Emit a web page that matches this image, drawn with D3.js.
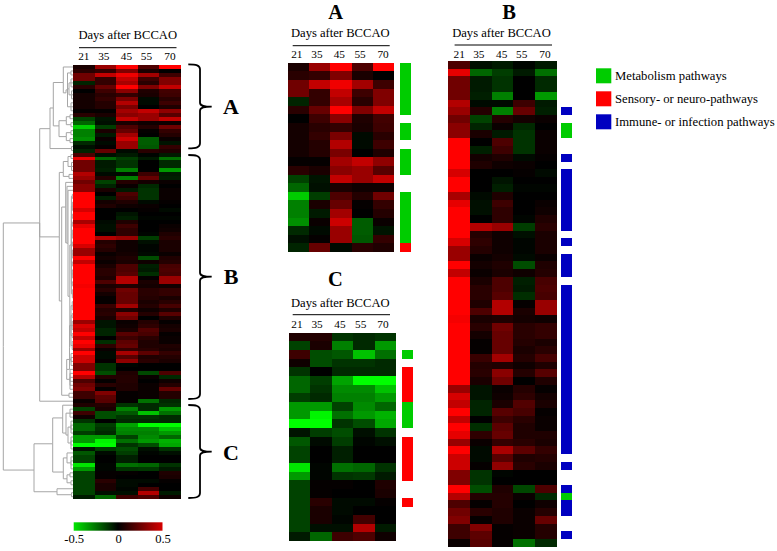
<!DOCTYPE html>
<html>
<head>
<meta charset="utf-8">
<script src="https://cdn.jsdelivr.net/npm/d3@7"></script>
<style>
html,body{margin:0;padding:0;background:#fff}
svg{display:block}
text{font-family:"Liberation Serif",serif;fill:#000}
.cells{filter:blur(.45px)}
</style>
</head>
<body>
<svg id="chart" width="777" height="551"></svg>
<script>
// ---------- data ----------
const days = ["21","35","45","55","70"];

const rowsA = [
[.05,.30,.50,.15,.50],[.08,.10,.25,.05,.00],[.22,.38,.47,.32,.12],[.22,.10,.38,.12,.25],
[-.07,.10,.33,.08,.25],[.08,.20,.50,.25,.38],[.00,.12,.27,.06,.13],[.04,.08,.10,.05,.12],
[.04,.10,.24,-.02,.08],[.04,.07,.35,-.02,.12],[.04,.07,.24,.00,.06],[.01,.01,.32,.38,.28],
[.08,.05,.27,.30,.17],[-.13,-.04,.38,.30,.38],[-.20,-.03,.05,.03,.03],[-.40,-.12,.15,.07,.22],
[-.25,.05,.20,.01,.10],[-.25,-.05,.32,.00,.07],[-.28,.02,.40,-.18,.02],[-.08,-.02,.30,-.18,-.04],
[-.03,.01,.30,-.17,.10],[-.07,.20,-.02,.08,.06]];

const rowsB = [
[.15,-.03,-.05,-.01,-.05],[.45,-.20,-.12,-.05,-.22],[.22,-.05,-.10,.00,-.08],[.22,-.05,-.10,.00,-.08],
[.22,-.06,-.25,.00,-.30],[.35,-.02,-.02,.12,-.05],[.30,.07,-.25,.20,-.06],[.22,-.13,.07,.04,.02],
[.27,-.07,.02,-.08,.00],[.27,.05,-.05,-.10,.02],[.50,.00,.15,-.10,.02],[.50,-.06,.12,-.10,.02],
[.50,.04,.06,-.02,.01],[.50,.06,.03,.02,.00],[.42,.00,.00,.01,-.02],[.50,.00,-.04,.00,.00],
[.50,.00,-.06,-.01,-.01],[.33,-.02,.06,.00,.00],[.45,-.03,.12,.00,.02],[.50,-.03,.09,.00,.03],
[.50,.00,.09,-.01,.06],[.50,.35,.30,-.12,.08],[.50,.07,.03,-.03,.05],[.42,.09,.03,-.01,.05],
[.30,.07,.03,-.01,.05],[.30,.02,.04,-.02,.02],[.50,.04,.06,-.15,.06],[.38,.02,.05,.03,.07],
[.50,.05,.15,-.06,.14],[.50,.08,.15,-.05,.15],[.50,.08,.17,-.09,.14],[.50,.06,.35,.01,.30],
[.50,.15,.35,.05,.30],[.48,.05,.06,.04,.03],[.50,.08,.22,.08,.10],[.50,.04,.20,.08,.10],
[.50,.01,.20,.07,.05],[.50,.01,.20,.05,.08],[.50,.11,.32,.07,.14],[.50,.07,.06,.03,.06],
[.50,.08,.27,.07,.17],[.50,.05,.22,.00,.06],[.30,-.04,.02,.07,.01],[.42,-.04,.03,.09,.04],
[.38,-.07,.05,.16,.05],[.50,-.07,.17,.14,.01],[.38,.00,.12,.08,.02],[.50,-.09,.18,.06,.02],
[.45,.09,.20,.06,.06],[.30,.02,.10,.08,.05],[.50,-.02,.33,.18,.10],[.40,-.02,.17,.06,.07],
[.40,.01,.28,.08,.05],[.25,-.10,-.01,.00,.00],[.25,-.10,.00,.00,.00],[.50,-.15,.06,-.14,.15],
[.35,.07,.07,.02,-.08],[.15,.01,.07,.00,.03],[.22,.08,.06,.02,.07],[.25,.01,.06,.02,.20],
[.12,.25,.01,.02,.07],[.12,.18,.01,.02,.07],[.02,.17,.01,-.22,-.08]];

const rowsC = [
[.06,.07,-.10,-.08,-.10],[-.13,.05,-.25,-.08,-.30],[.12,-.15,-.17,-.38,-.22],[.03,-.15,-.10,-.10,-.08],
[-.10,.00,-.08,-.08,-.08],[-.20,-.12,-.32,-.50,-.50],[-.20,-.10,-.27,-.27,-.38],[-.12,-.08,-.25,-.25,-.30],
[-.30,-.30,-.13,-.27,-.20],[-.30,-.48,-.22,-.30,-.35],[-.50,-.50,-.10,-.15,-.33],[-.04,-.12,-.15,-.03,-.10],
[-.17,-.02,-.12,-.01,-.03],[-.13,.00,-.06,.00,.00],[-.13,.00,-.06,.00,.00],[-.45,-.01,-.22,-.20,-.10],
[-.30,-.01,-.10,-.11,-.05],[-.13,.01,.01,.00,.06],[-.13,.01,.00,.00,.05],[-.13,.08,-.02,-.02,.01],
[-.13,.05,-.02,.00,.00],[-.13,.05,-.01,.13,.00],[-.13,-.03,-.03,.35,-.05],[-.05,-.20,.12,.15,.03]];

const pathwayNames = {M:"Metabolism pathways",S:"Sensory- or neuro-pathways",I:"Immune- or infection pathways"};
const pathwayKeys = ["M","S","I"];
const pathwaysA = "MMMMMM.MM.MMM..MMMMMMS".split("");
const pathwaysB = "......I.MM..I.IIIIIIII.I.III.IIIIIIIIIIIIIIIIIIIIII.I..IMII..I.".split("");
const pathwaysC = "..M.SSSSMMM.SSSSS..S....".split("");

const scaleTicks = [-0.5, 0, 0.5];

// dendrogram: [height, join row or null, ...children]; 0 = one leaf row
const _ = null;
const treeA = [23,16,
  [19.7,10.8,
    [9.7,4.4,0,[7,7,
       [5.5,_,[2,_,0,0],[4,_,[2,_,0,0,0],[1.5,_,0,0,0]],[2,_,0,0,0]]]],
    [14,15.3,[6.7,_,[3,_,0,0],[2,_,0,0]],[6.7,_,[2,_,0,0],[3,_,0,0]]]],
  [1.5,_,0,0]];
const treeB = [13.7,43.2,
  [9.7,27,[5,_,[2,_,0,0],[1.5,_,0,0,0]],[4,_,0,0]],
  [11.3,59.3,
    [7.3,35.7,0,[6,44.7,0,[5,_,0,
      [3.2,_,
        [1.6,_,[.7,_,0,0],[.7,_,0,0,0],[.7,_,0,0],[.7,_,0,0],[.7,_,0,0,0],[.7,_,0,0],[.7,_,0,0,0],[.7,_,0,0],[.7,_,0,0,0],[.7,_,0,0],[.7,_,0,0,0]],
        [3.5,_,
          [2,_,[.8,_,0,0,0],[.8,_,0,0],[.8,_,0,0,0],[.8,_,0,0],[.8,_,0,0,0]],
          [6.3,_,[2,_,0,0,0,0],[3,_,0,0,0,0,0,0]]]]]]],
    [4,_,0,0]]];
const treeC = [39,101.8,
  [20.3,95.2,
    [10.3,88.7,0,[7,92.5,[3,_,0,0,0],[5,_,[2,_,0,0,0,0],[2,_,0,0,0,0]]]],
    [9.7,102.3,[6,_,0,[2,_,0,0,0,0]],[6,_,[3,_,0,0],[2,_,0,0]]]],
  [16,_,0,[1.5,_,0,0]]];
const treeAll = [69.7,_,[33.3,39.7,treeA,treeB,0],treeC];

// ---------- shared ----------
const svg = d3.select("#chart");
const color = d3.scaleLinear().domain([-.5,0,.5]).range(["#00ff00","#000000","#ff0000"]).clamp(true);
const pathwayColor = d3.scaleOrdinal().domain(pathwayKeys).range(["#00cc00","#ff0000","#0000c0"]);
const fontTitle = 12.6, fontTick = 11.3;

function heatmap(rows, x0, x1, y0, y1, cats, barX0, barX1) {
  const g = svg.append("g");
  const x = d3.scaleBand().domain(days).range([x0,x1]);
  const y = d3.scaleBand().domain(d3.range(rows.length)).range([y0,y1]);
  g.append("g").attr("class","cells").selectAll("g.row").data(rows).join("g").attr("class","row")
    .selectAll("rect").data((r,i)=>r.map((v,j)=>({v,day:days[j],i})))
    .join("rect")
    .attr("x",d=>x(d.day)).attr("y",d=>y(d.i))
    .attr("width",x.bandwidth()).attr("height",y.bandwidth()+.3)
    .attr("fill",d=>color(d.v)).attr("shape-rendering","crispEdges");
  if (cats) {
    g.selectAll("rect.bar").data(cats.map((c,i)=>({c,i})).filter(d=>d.c!=="."))
      .join("rect").attr("class","bar")
      .attr("x",barX0).attr("width",barX1-barX0)
      .attr("y",d=>y(d.i)).attr("height",y.bandwidth()+.3)
      .attr("fill",d=>pathwayColor(d.c)).attr("shape-rendering","crispEdges");
  }
  return x;
}

function header(x, cfg) {
  const g = svg.append("g");
  g.append("text").attr("x",cfg.titleX).attr("y",cfg.titleY).attr("text-anchor","middle")
    .attr("font-size",fontTitle).text("Days after BCCAO");
  g.append("line").attr("x1",cfg.lineX0).attr("x2",cfg.lineX1).attr("y1",cfg.lineY).attr("y2",cfg.lineY)
    .attr("stroke","#000").attr("stroke-width",1);
  const axis = g.append("g").attr("transform",`translate(0,${cfg.tickY})`)
    .call(d3.axisTop(x).tickSize(0).tickPadding(0));
  axis.select(".domain").remove();
  axis.selectAll("text")
    .attr("dx",(d,i)=>cfg.nudge[i])
    .attr("font-family","Liberation Serif").attr("font-size",fontTick);
  if (cfg.letter) {
    g.append("text").attr("x",cfg.letterX).attr("y",cfg.letterY).attr("text-anchor","middle")
      .attr("font-size",20.5).attr("font-weight","bold").text(cfg.letter);
  }
}

// ---------- main heat map ----------
const allRows = rowsA.concat(rowsB, rowsC);
const mainX0 = 73, mainX1 = 180.7, mainY0 = 65, mainY1 = 498.7;
const xMain = heatmap(allRows, mainX0, mainX1, mainY0, mainY1);
header(xMain,{titleX:127.7,titleY:39,lineX0:79,lineX1:176.5,lineY:47.7,tickY:60,nudge:[0,-1.5,-.4,-2,0]});

// ---------- dendrogram ----------
const rowY = d3.scaleLinear().domain([0,allRows.length]).range([mainY0,mainY1]);
const distX = d3.scaleLinear().domain([0,70]).range([mainX0,3]);
const tree = d3.hierarchy(treeAll, d=>Array.isArray(d)?d.slice(2):null);
tree.leaves().forEach((l,i)=>{ l.row = i+.5; l.h = 0; });
tree.eachAfter(n=>{
  if (n.children) {
    n.h = n.data[0];
    n.row = n.data[1]!==null ? n.data[1]
      : (n.children[0].row + n.children[n.children.length-1].row)/2;
  }
});
svg.append("g").attr("fill","none").attr("stroke","#a6a6a6").attr("stroke-width",1)
  .selectAll("path").data(tree.links()).join("path")
  .attr("d",l=>`M${distX(l.source.h)},${rowY(l.source.row)}V${rowY(l.target.row)}H${distX(l.target.h)}`);

// ---------- brackets ----------
const brackets = [
  {label:"A",top:64.3,mid:106.7,bottom:148.3,labelY:114},
  {label:"B",top:155,mid:276.7,bottom:399,labelY:284},
  {label:"C",top:405,mid:451.7,bottom:498,labelY:460}];
const bx0 = 188.3, bx1 = 200, bx2 = 211.7;
const gb = svg.append("g");
gb.selectAll("path").data(brackets).join("path")
  .attr("fill","none").attr("stroke","#000").attr("stroke-width",1.8)
  .attr("d",b=>{
    const p = d3.path();
    p.moveTo(bx0,b.top);
    p.bezierCurveTo(bx0+8,b.top,bx1,b.top+1,bx1,b.top+5);
    p.lineTo(bx1,b.mid-4);
    p.bezierCurveTo(bx1,b.mid-1,bx1+3,b.mid,bx2,b.mid);
    p.bezierCurveTo(bx1+3,b.mid,bx1,b.mid+1,bx1,b.mid+4);
    p.lineTo(bx1,b.bottom-5);
    p.bezierCurveTo(bx1,b.bottom-1,bx0+8,b.bottom,bx0,b.bottom);
    return p.toString();
  });
gb.selectAll("text").data(brackets).join("text")
  .attr("x",231).attr("y",b=>b.labelY).attr("text-anchor","middle")
  .attr("font-size",22).attr("font-weight","bold").text(b=>b.label);

// ---------- colour scale ----------
const barScale = d3.scaleLinear().domain(d3.extent(scaleTicks)).range([73.7,162.5]);
const grad = svg.append("defs").append("linearGradient").attr("id","cbar");
grad.selectAll("stop").data([-.45,0,.42]).join("stop")
  .attr("offset",(d,i)=>i/2).attr("stop-color",d=>color(d));
svg.append("rect").attr("x",barScale.range()[0]).attr("y",522.3)
  .attr("width",barScale.range()[1]-barScale.range()[0]).attr("height",8.4).attr("fill","url(#cbar)");
const barAxis = svg.append("g").attr("transform","translate(0,532)")
  .call(d3.axisBottom(barScale).tickValues(scaleTicks).tickSize(0).tickPadding(2).tickFormat(d=>d===0?"0":String(d)));
barAxis.select(".domain").remove();
barAxis.selectAll("text").attr("font-family","Liberation Serif").attr("font-size",12.6);

// ---------- panel A ----------
const xA = heatmap(rowsA, 287.7,394.3, 62.7,252, pathwaysA, 399.7,410.7);
header(xA,{titleX:340.3,titleY:37,lineX0:292.7,lineX1:389.7,lineY:45.7,tickY:58,nudge:[-1.6,-2.7,-1.7,-2.3,-.6],letter:"A",letterX:335.7,letterY:19});

// ---------- panel B ----------
const xB = heatmap(rowsB, 448.3,556.7, 61,546.7, pathwaysB, 561.3,572);
header(xB,{titleX:501.5,titleY:37,lineX0:454.6,lineX1:552,lineY:45,tickY:58,nudge:[0,-2,-.8,-2.5,-.9],letter:"B",letterX:509,letterY:19});

// ---------- panel C ----------
const xC = heatmap(rowsC, 289,396, 332.7,541, pathwaysC, 402,412.7);
header(xC,{titleX:340.3,titleY:306.7,lineX0:292.7,lineX1:390,lineY:314.7,tickY:327.7,nudge:[-2.7,-4,-2.5,-3.2,-2.3],letter:"C",letterX:335.3,letterY:285.7});

// ---------- legend ----------
const legendY = d3.scalePoint().domain(pathwayKeys).range([68.3,114.3]);
const lg = svg.append("g").selectAll("g").data(pathwayKeys).join("g")
  .attr("transform",k=>`translate(596,${legendY(k)})`);
lg.append("rect").attr("width",15.3).attr("height",15).attr("fill",k=>pathwayColor(k));
lg.append("text").attr("x",19).attr("y",12).attr("font-size",12.7).text(k=>pathwayNames[k]);
</script>
</body>
</html>
